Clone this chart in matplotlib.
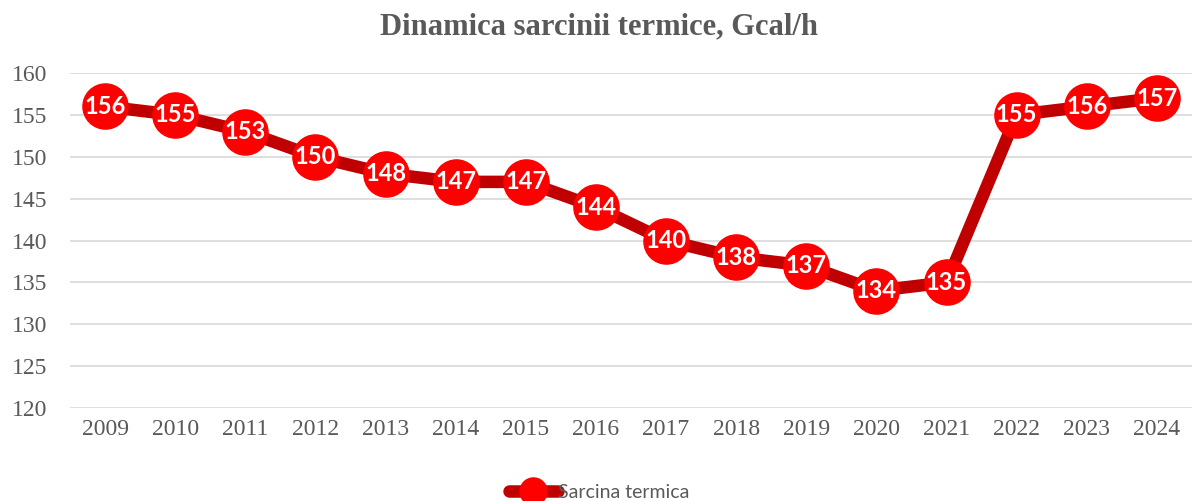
import matplotlib.pyplot as plt

years = ["2009", "2010", "2011", "2012", "2013", "2014", "2015", "2016",
         "2017", "2018", "2019", "2020", "2021", "2022", "2023", "2024"]
load = [156, 155, 153, 150, 148, 147, 147, 144, 140, 138, 137, 134, 135, 155, 156, 157]

serif = ["Liberation Serif", "DejaVu Serif"]
sans = ["Lato", "DejaVu Sans"]

fig = plt.figure(figsize=(11.98, 5.01), dpi=100)
ax = fig.add_axes([0.0584, 0.1856, 0.9366, 0.6687])

x = list(range(len(years)))
ax.plot(x, load, color="#C00000", lw=9, marker="o", markersize=32.5,
        markerfacecolor="#FF0000", markeredgecolor="#FF0000",
        solid_capstyle="round", solid_joinstyle="round",
        label="Sarcina termica", clip_on=False, zorder=3)

for xi, v in zip(x, load):
    ax.text(xi, v, str(v), ha="center", va="center", color="white",
            fontsize=17, fontweight="bold", family=sans, zorder=4)

ax.set_xlim(-0.5, len(years) - 0.5)
ax.set_ylim(120, 160)
ax.set_yticks(range(120, 161, 5))
ax.set_xticks(x)
ax.set_xticklabels(years)
ax.grid(axis="y", color="#D9D9D9", lw=1.2)
ax.set_axisbelow(True)
for s in ax.spines.values():
    s.set_visible(False)
ax.tick_params(length=0, labelsize=17, colors="#595959", pad=8)
ax.tick_params(axis="y", pad=16)
for lab in ax.get_xticklabels() + ax.get_yticklabels():
    lab.set_family(serif)

fig.suptitle("Dinamica sarcinii termice, Gcal/h", y=0.975, fontsize=22,
             fontweight="bold", color="#595959", family=serif)

leg = fig.legend(loc="lower center", bbox_to_anchor=(0.5, -0.035), frameon=False,
                 markerscale=0.6, handlelength=2.5, handletextpad=0.0,
                 prop={"family": sans, "size": 14})
for t in leg.get_texts():
    t.set_color("#595959")

fig.savefig("out.png", dpi=100)
